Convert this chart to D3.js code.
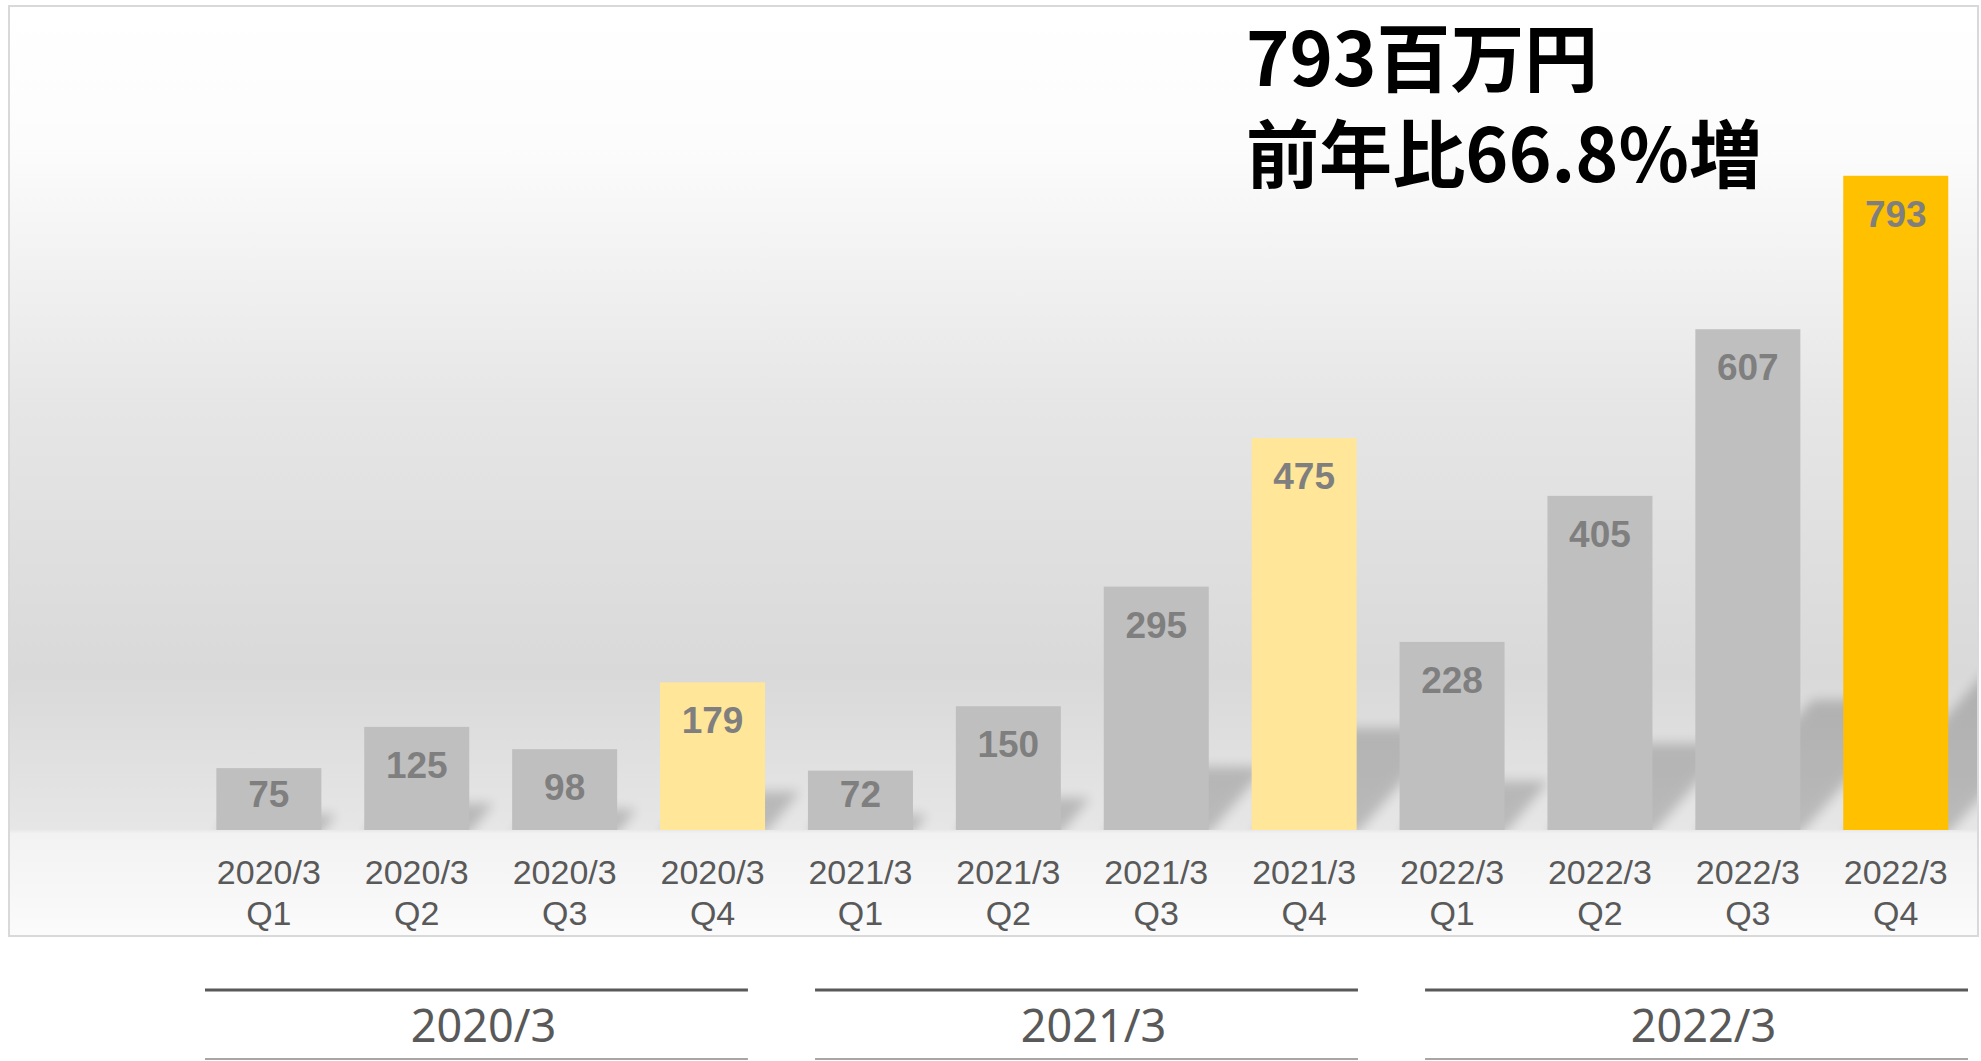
<!DOCTYPE html>
<html>
<head>
<meta charset="utf-8">
<script src="https://cdn.jsdelivr.net/npm/d3@7"></script>
<style>
  body { margin: 0; background: #ffffff; }
  svg { display: block; }
</style>
</head>
<body>
<div id="chart"></div>
<script>
// quarterly figures (百万円)
var quarters = ["Q1", "Q2", "Q3", "Q4", "Q1", "Q2", "Q3", "Q4", "Q1", "Q2", "Q3", "Q4"];
var quarterYears = ["2020/3", "2020/3", "2020/3", "2020/3", "2021/3", "2021/3", "2021/3", "2021/3", "2022/3", "2022/3", "2022/3", "2022/3"];
var sales = [75, 125, 98, 179, 72, 150, 295, 475, 228, 405, 607, 793];
var barKind = ["base", "base", "base", "q4", "base", "base", "base", "q4", "base", "base", "base", "latest"];
var fiscalYears = ["2020/3", "2021/3", "2022/3"];
var headline = ["793百万円", "前年比66.8%増"];

var kind_to_color = new Map();
kind_to_color.set("base", "#bfbfbf");
kind_to_color.set("q4", "#ffe699");
kind_to_color.set("latest", "#ffc000");

var width = 1981, height = 1061;
var baseY = 830;

var svg = d3.select("#chart").append("svg")
    .attr("width", width)
    .attr("height", height);

var defs = svg.append("defs");

// background gradient of the chart panel
var grad = defs.append("linearGradient")
    .attr("id", "panel_bg")
    .attr("x1", 0).attr("y1", 0).attr("x2", 0).attr("y2", 1);
[[0, "#ffffff"], [0.15, "#fcfcfc"], [0.43, "#e6e6e6"], [0.72, "#d9d9d9"],
 [0.885, "#e6e6e6"], [0.89, "#f2f2f2"], [1, "#fbfbfb"]].forEach(function(s) {
    grad.append("stop").attr("offset", s[0]).attr("stop-color", s[1]);
});

var blur = defs.append("filter")
    .attr("id", "soft")
    .attr("x", "-50%").attr("y", "-50%").attr("width", "200%").attr("height", "200%");
blur.append("feGaussianBlur").attr("stdDeviation", 6);

defs.append("clipPath").attr("id", "above_floor")
    .append("rect")
    .attr("x", 10).attr("y", 7)
    .attr("width", 1967).attr("height", baseY - 7);

// panel
svg.append("rect")
    .attr("x", 9).attr("y", 6)
    .attr("width", 1969).attr("height", 930)
    .attr("fill", "url(#panel_bg)")
    .attr("stroke", "#d9d9d9")
    .attr("stroke-width", 2);

var x = d3.scaleBand()
    .domain(d3.range(sales.length))
    .range([194.9, 1969.7])
    .paddingInner(0.29)
    .paddingOuter(0.145);

var y = d3.scaleLinear()
    .domain([0, 1000])
    .range([baseY, 5]);

// cast shadows behind the bars
var slant = 0.9, shadowRatio = 0.26;
svg.append("g")
    .attr("clip-path", "url(#above_floor)")
    .selectAll("polygon")
    .data(sales)
    .join("polygon")
    .attr("points", function(d, i) {
        var x0 = x(i), x1 = x(i) + x.bandwidth();
        var h = (baseY - y(d)) * shadowRatio;
        return [[x0, baseY + 4], [x1, baseY + 4], [x1 + slant * h, baseY - h], [x0 + slant * h, baseY - h]]
            .map(function(p) { return p.join(","); }).join(" ");
    })
    .attr("fill", "#000")
    .attr("opacity", 0.19)
    .attr("filter", "url(#soft)");

// bars
svg.append("g")
    .selectAll("rect")
    .data(sales)
    .join("rect")
    .attr("x", function(d, i) { return x(i); })
    .attr("y", function(d) { return y(d); })
    .attr("width", x.bandwidth())
    .attr("height", function(d) { return baseY - y(d); })
    .attr("fill", function(d, i) { return kind_to_color.get(barKind[i]); });

// value labels inside the bar tops
svg.append("g")
    .selectAll("text")
    .data(sales)
    .join("text")
    .attr("x", function(d, i) { return x(i) + x.bandwidth() / 2; })
    .attr("y", function(d) {
        var h = baseY - y(d);
        return y(d) + Math.min(51, h - 23);
    })
    .attr("text-anchor", "middle")
    .attr("font-family", "'Liberation Sans', Arial, sans-serif")
    .attr("font-weight", "bold")
    .attr("font-size", 37)
    .attr("fill", "#7f7f7f")
    .text(function(d) { return d; });

// category axis with two-line labels
var axis = svg.append("g")
    .attr("transform", "translate(0," + baseY + ")")
    .call(d3.axisBottom(x).tickSize(0).tickFormat(function() { return ""; }));
axis.select(".domain").remove();
axis.selectAll(".tick text").each(function(i) {
    var t = d3.select(this)
        .attr("y", 0).attr("dy", null)
        .attr("font-family", "'Liberation Sans', Arial, sans-serif")
        .attr("font-size", 34)
        .attr("fill", "#595959");
    t.append("tspan").attr("x", 0).attr("y", 54).text(quarterYears[i]);
    t.append("tspan").attr("x", 0).attr("y", 95).text(quarters[i]);
});

// fiscal year brackets under the panel
var gx = d3.scaleBand()
    .domain(fiscalYears)
    .range([205, 1968])
    .paddingInner(0.11)
    .paddingOuter(0);

var groups = svg.append("g").selectAll("g")
    .data(fiscalYears)
    .join("g");
groups.append("line")
    .attr("x1", function(d) { return gx(d); })
    .attr("x2", function(d) { return gx(d) + gx.bandwidth(); })
    .attr("y1", 990).attr("y2", 990)
    .attr("stroke", "#595959")
    .attr("stroke-width", 3);
groups.append("line")
    .attr("x1", function(d) { return gx(d); })
    .attr("x2", function(d) { return gx(d) + gx.bandwidth(); })
    .attr("y1", 1059).attr("y2", 1059)
    .attr("stroke", "#a6a6a6")
    .attr("stroke-width", 2);
groups.append("text")
    .attr("x", function(d) { return gx(d) + gx.bandwidth() / 2 + 7; })
    .attr("y", 1042)
    .attr("text-anchor", "middle")
    .attr("font-family", "'Noto Sans', sans-serif")
    .attr("font-size", 45)
    .attr("fill", "#595959")
    .text(function(d) { return d; });

// headline, two lines in one text block
var headLen = [352, 516];
svg.append("text")
    .attr("font-family", "'Noto Sans CJK JP', sans-serif")
    .attr("font-weight", "bold")
    .attr("font-size", 74)
    .attr("fill", "#000000")
    .selectAll("tspan")
    .data(headline)
    .join("tspan")
    .attr("x", 1246)
    .attr("y", function(d, i) { return 86 + i * 96; })
    .attr("textLength", function(d, i) { return headLen[i]; })
    .attr("lengthAdjust", "spacingAndGlyphs")
    .text(function(d) { return d; });
</script>
</body>
</html>
